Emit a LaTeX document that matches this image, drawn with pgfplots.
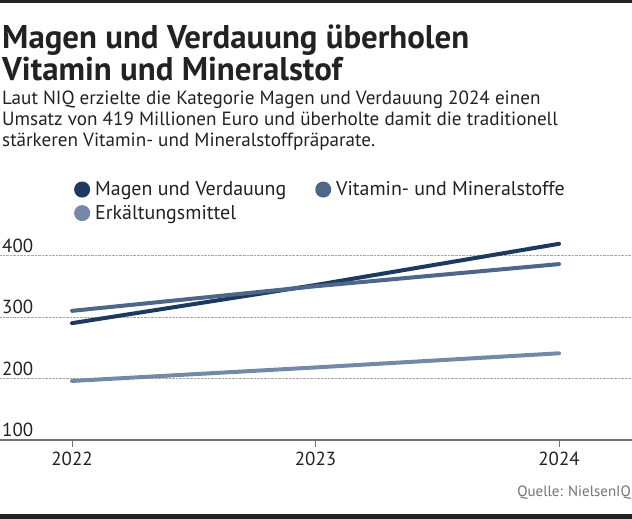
\documentclass[border=0pt]{standalone}
\usepackage{fontspec}
\setmainfont{PT Sans}
\usepackage{pgfplots}
\pgfplotsset{compat=1.18}
\definecolor{magen}{HTML}{1B3A5E}
\definecolor{vitamin}{HTML}{4D6789}
\definecolor{erkalt}{HTML}{7489A8}
\definecolor{txt}{HTML}{222222}
\begin{document}
\begin{tikzpicture}
% page frame, 1px = 1bp, y pointing down
\useasboundingbox (0bp,0bp) rectangle (632bp,-519bp);
\fill[white] (0bp,0bp) rectangle (632bp,-519bp);
\fill[txt] (0bp,0bp) rectangle (632bp,-3bp);
\fill[txt] (0bp,-514bp) rectangle (632bp,-519bp);
\node[anchor=base west, inner sep=0pt, text=txt, font=\fontsize{33}{33}\selectfont\bfseries] at (2bp,-48bp) {Magen und Verdauung überholen};
\node[anchor=base west, inner sep=0pt, text=txt, font=\fontsize{33}{33}\selectfont\bfseries] at (2bp,-80bp) {Vitamin und Mineralstof};
\node[anchor=base west, inner sep=0pt, text=txt, font=\fontsize{19.2}{19}\selectfont] at (2bp,-104bp) {Laut NIQ erzielte die Kategorie Magen und Verdauung 2024 einen};
\node[anchor=base west, inner sep=0pt, text=txt, font=\fontsize{19.2}{19}\selectfont] at (2bp,-125bp) {Umsatz von 419 Millionen Euro und überholte damit die traditionell};
\node[anchor=base west, inner sep=0pt, text=txt, font=\fontsize{19.2}{19}\selectfont] at (2bp,-146bp) {stärkeren Vitamin- und Mineralstoffpräparate.};
\node[anchor=base east, inner sep=0pt, text=black!55, font=\fontsize{15}{15}\selectfont] at (631bp,-496bp) {Quelle: NielsenIQ};
\begin{axis}[
    at={(0bp,-440bp)}, anchor=south west,
    scale only axis, width=632bp, height=215.25bp,
    xmin=2021.7043, xmax=2024.2998,
    ymin=100, ymax=450,
    axis x line*=bottom, axis y line*=left,
    y axis line style={draw=none},
    x axis line style={black!55, line width=1.2bp},
    xtick={2022,2023,2024},
    ytick={100,200,300,400},
    ymajorgrids=true,
    major grid style={black!35, densely dotted, line width=0.6bp},
    xtick style={black!55, line width=1bp},
    ytick style={draw=none},
    tick align=outside,
    major tick length=7bp,
    x tick label style={/pgf/number format/1000 sep={}, font=\fontsize{19}{19}\selectfont, text=txt, yshift=-1bp},
    y tick label style={anchor=south west, inner sep=0pt, xshift=9bp, yshift=3bp, font=\fontsize{19}{19}\selectfont, text=txt},
    /pgf/number format/assume math mode=true,
    clip=false,
    legend columns=2,
    legend cell align=left,
    legend image code/.code={\fill (0bp,0bp) circle (6bp);},
    legend style={draw=none, fill=none, inner sep=0pt,
        at={(axis description cs:0.117,1.21)}, anchor=north west,
        font=\fontsize{20}{20}\selectfont, text=txt,
        row sep=4bp,
        /tikz/every odd column/.append style={column sep=3bp},
        /tikz/every even column/.append style={column sep=27bp}},
]
\addplot[magen, line width=4bp, line cap=round, line join=round] coordinates {
    (2022, 290) (2023, 352) (2024, 419)
};
\addlegendentry{Magen und Verdauung}
\addplot[vitamin, line width=4bp, line cap=round, line join=round] coordinates {
    (2022, 310) (2023, 350) (2024, 386)
};
\addlegendentry{Vitamin- und Mineralstoffe}
\addplot[erkalt, line width=4bp, line cap=round, line join=round] coordinates {
    (2022, 196) (2023, 218) (2024, 241)
};
\addlegendentry{Erkältungsmittel}
\end{axis}
\end{tikzpicture}
\end{document}
